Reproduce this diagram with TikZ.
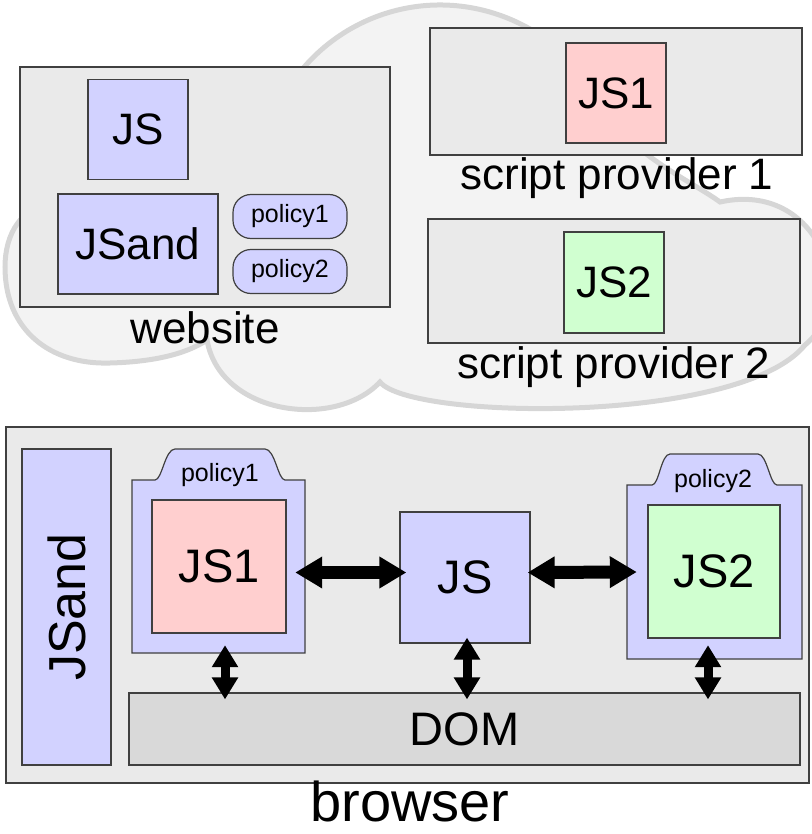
\documentclass[tikz,border=0pt]{standalone}
\usepackage{fontspec}
\setmainfont{Liberation Sans}
\usetikzlibrary{arrows.meta}
\definecolor{cloudfill}{HTML}{F3F3F3}
\definecolor{cloudline}{HTML}{D6D6D6}
\definecolor{boxgray}{HTML}{EAEAEA}
\definecolor{domgray}{HTML}{D9D9D9}
\definecolor{jsblue}{HTML}{D2D2FF}
\definecolor{jspink}{HTML}{FFCFCF}
\definecolor{jsgreen}{HTML}{D0FFD0}
\begin{document}
\begin{tikzpicture}
[x=1pt,y=-1pt,
  boxdecorate/.style={shape=rectangle,draw=black!75,line width=1.2pt,inner sep=0pt},
  tabdecorate/.style={draw=black!75,line width=1.2pt,fill=jsblue},
  policydecorate/.style={boxdecorate,fill=jsblue,rounded corners=18pt,minimum width=114,minimum height=44,font=\fontsize{25}{28}\selectfont},
  labeldecorate/.style={anchor=base,inner sep=0pt,font=\fontsize{44}{50}\selectfont},
  bigarrow/.style={{Triangle[length=27pt,width=30pt]}-{Triangle[length=27pt,width=30pt]},line width=13pt},
  smallarrow/.style={{Triangle[length=22pt,width=25pt]}-{Triangle[length=22pt,width=25pt]},line width=9pt}]
\useasboundingbox (0,0) rectangle (811,834);
%% cloud
\draw[draw=cloudline,fill=cloudfill,line width=5pt]
  (207,340) .. controls (220,415) and (335,430) .. (380,382)
  .. controls (410,420) and (740,425) .. (805,345)
  .. controls (860,300) and (820,180) .. (720,202)
  .. controls (690,180) and (620,150) .. (596,95)
  arc[start angle=-30,end angle=-160,radius=180]
  -- (60,200) .. controls (20,205) and (5,235) .. (5,267)
  .. controls (5,330) and (50,365) .. (110,363)
  .. controls (150,362) and (185,355) .. cycle;
%% website and script providers
\foreach \nodename/\x/\y/\w/\h in {web/205/187/370/240, prov1/616/91.5/372/127, prov2/614/281/372/124} {
  \node (\nodename) at (\x,\y) [boxdecorate,fill=boxgray,minimum width=\w,minimum height=\h] {};
}
\foreach \nodename/\x/\y/\w/\h/\fillcol/\word in {js/138/129.5/100/100/jsblue/JS, jsand/138/244/160/100/jsblue/JSand, js1/616/93/100/100/jspink/JS1, js2/614/282.5/100/101/jsgreen/JS2} {
  \node (\nodename) at (\x,\y) [boxdecorate,fill=\fillcol,minimum width=\w,minimum height=\h,font=\fontsize{44}{50}\selectfont] {\word};
}
\foreach \nodename/\y/\word in {toppol1/216.5/policy1, toppol2/271.5/policy2} {
  \node (\nodename) at (290,\y) [policydecorate] {\word};
}
\node (weblabel) at (205,343) [labeldecorate] {website};
\node (prov1label) at (617,190) [labeldecorate] {script provider 1};
\node (prov2label) at (614,378) [labeldecorate] {script provider 2};
%% browser
\node (browser) at (407.5,605) [boxdecorate,fill=boxgray,minimum width=803,minimum height=356] {};
\node (browserlabel) at (410,821) [labeldecorate,font=\fontsize{56}{60}\selectfont] {browser};
\node (sandbar) at (66.5,607) [boxdecorate,fill=jsblue,rotate=90,minimum width=316,minimum height=89,font=\fontsize{52}{56}\selectfont] {JSand};
\node (dom) at (464.5,729) [boxdecorate,fill=domgray,minimum width=671,minimum height=72,font=\fontsize{47}{50}\selectfont] {DOM};
%% policy containers
\draw[tabdecorate] (132,653) -- (132,480) -- (155,480) .. controls (162,480) and (165,449) .. (175,449)
  -- (265,449) .. controls (275,449) and (278,480) .. (285,480) -- (305,480) -- (305,653) -- cycle;
\draw[tabdecorate] (627,659) -- (627,485) -- (652,485) .. controls (659,485) and (661,454) .. (670,454)
  -- (758,454) .. controls (767,454) and (770,485) .. (777,485) -- (802,485) -- (802,659) -- cycle;
\node (pol1) at (218.5,566.5) [inner sep=0pt,minimum width=173,minimum height=173] {};
\node (pol2) at (714.5,572) [inner sep=0pt,minimum width=175,minimum height=174] {};
\node (pol1name) at (220,481) [anchor=base,font=\fontsize{25}{28}\selectfont] {policy1};
\node (pol2name) at (713,487) [anchor=base,font=\fontsize{25}{28}\selectfont] {policy2};
\foreach \nodename/\x/\y/\w/\h/\fillcol/\word in {bjs1/219/566.5/134/133/jspink/JS1, bjs/465/577.5/130/131/jsblue/JS, bjs2/714/571.5/132/133/jsgreen/JS2} {
  \node (\nodename) at (\x,\y) [boxdecorate,fill=\fillcol,minimum width=\w,minimum height=\h,font=\fontsize{47}{50}\selectfont] {\word};
}
%% arrows
\draw[bigarrow] ([shift={(-10,6)}]pol1.east) -- ([shift={(7,-5)}]bjs.west);
\draw[bigarrow] ([shift={(-3,-5)}]bjs.east) -- ([shift={(10,0)}]pol2.west);
\draw[smallarrow] ([shift={(6.5,-8)}]pol1.south) -- ([shift={(-239.5,7)}]dom.north);
\draw[smallarrow] ([shift={(2,-6)}]bjs.south) -- ([shift={(2.5,7)}]dom.north);
\draw[smallarrow] ([shift={(-6.5,-14)}]pol2.south) -- ([shift={(243.5,7)}]dom.north);
\end{tikzpicture}
\end{document}
